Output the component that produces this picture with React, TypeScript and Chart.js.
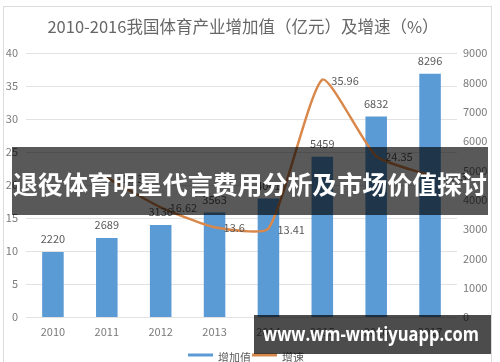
import React, { useEffect, useRef } from "react";
import { Chart, registerables } from "chart.js";

Chart.register(...registerables);

const years = ["2010", "2011", "2012", "2013", "2014", "2015", "2016", "2017"];
const addedValue = [2220, 2689, 3136, 3563, 4041, 5459, 6832, 8296];
const growthRate = [null, 21.13, 16.62, 13.6, 13.41, 35.96, 24.35, 21.43];
const growthLabels = ["", "21.13", "16.62", "13.6", "13.41", "35.96", "24.35", "21.43"];
const leftAxis = { min: 0, max: 40, step: 5 };
const rightAxis = { min: 0, max: 9000, step: 1000 };
const chartTitle = "2010-2016我国体育产业增加值（亿元）及增速（%）";
const legendNames = ["增加值", "增速"];
const bannerText = "退役体育明星代言费用分析及市场价值探讨";
const watermarkText = "www.wm-wmtiyuapp.com";

const BAR_COLOR = "#5B9BD5";
const LINE_COLOR = "#D9884C";
const TEXT_GRAY = "#7a7a7a";
const CJK = '"Noto Sans CJK SC", "Noto Sans", sans-serif';

const overlayPlugin = {
  id: "overlays",
  afterDatasetsDraw(chart: any) {
    const ctx = chart.ctx;
    ctx.save();
    const barMeta = chart.getDatasetMeta(0);
    ctx.font = `11px ${CJK}`;
    ctx.fillStyle = "#595959";
    ctx.textAlign = "center";
    ctx.textBaseline = "middle";
    barMeta.data.forEach((el: any, i: number) => {
      ctx.fillText(String(addedValue[i]), el.x, el.y - 13);
    });
    const lineMeta = chart.getDatasetMeta(1);
    ctx.textAlign = "left";
    lineMeta.data.forEach((el: any, i: number) => {
      if (growthRate[i] == null) return;
      ctx.fillText(growthLabels[i], el.x + 9, el.y + 1);
    });
    ctx.restore();
  },
  afterDraw(chart: any) {
    const ctx = chart.ctx;
    ctx.save();
    ctx.strokeStyle = "#dcdcdc";
    ctx.lineWidth = 1;
    ctx.strokeRect(3.5, 6.5, 488, 362);
    ctx.font = `16.5px ${CJK}`;
    ctx.fillStyle = "#666666";
    ctx.textAlign = "center";
    ctx.textBaseline = "middle";
    ctx.fillText(chartTitle, 243, 27);
    ctx.lineWidth = 3;
    ctx.strokeStyle = BAR_COLOR;
    ctx.beginPath();
    ctx.moveTo(188, 355);
    ctx.lineTo(213, 355);
    ctx.stroke();
    ctx.strokeStyle = LINE_COLOR;
    ctx.beginPath();
    ctx.moveTo(252, 355);
    ctx.lineTo(277, 355);
    ctx.stroke();
    ctx.font = `11px ${CJK}`;
    ctx.fillStyle = "#595959";
    ctx.textAlign = "left";
    ctx.fillText(legendNames[0], 218, 358);
    ctx.fillText(legendNames[1], 282, 358);
    ctx.fillStyle = "rgba(0,0,0,0.65)";
    ctx.fillRect(12, 147, 476, 68);
    ctx.fillStyle = "#ffffff";
    ctx.font = `bold 25px ${CJK}`;
    ctx.textAlign = "center";
    ctx.textBaseline = "middle";
    ctx.fillText(bannerText, 250, 184, 474);
    ctx.fillStyle = "rgba(0,0,0,0.7)";
    ctx.fillRect(254, 315, 237, 39);
    ctx.fillStyle = "#ffffff";
    ctx.font = `bold 20px "Open Sans", "DejaVu Sans", sans-serif`;
    ctx.fillText(watermarkText, 371, 335, 216);
    ctx.restore();
  },
};

export default function App() {
  const ref = useRef<HTMLCanvasElement | null>(null);
  useEffect(() => {
    if (!ref.current) return;
    const chart = new Chart(ref.current, {
      type: "bar",
      data: {
        labels: years,
        datasets: [
          {
            type: "bar",
            label: legendNames[0],
            data: addedValue,
            yAxisID: "y1",
            backgroundColor: BAR_COLOR,
            barPercentage: 0.8,
            categoryPercentage: 0.5,
            order: 1,
          },
          {
            type: "line",
            label: legendNames[1],
            data: growthRate as any,
            yAxisID: "y",
            borderColor: LINE_COLOR,
            borderWidth: 2.5,
            pointRadius: 0,
            tension: 0.18,
            fill: false,
            order: 0,
          },
        ],
      } as any,
      plugins: [overlayPlugin],
      options: {
        responsive: false,
        animation: false,
        layout: { padding: { top: 53, bottom: 22, left: 0, right: 0 } },
        plugins: {
          legend: { display: false },
          title: { display: false },
          tooltip: { enabled: false },
        },
        scales: {
          x: {
            grid: { display: false },
            border: { display: false },
            ticks: { color: TEXT_GRAY, font: { size: 11, family: CJK }, padding: 0 },
            afterFit(s: any) {
              s.height = 23;
            },
          },
          y: {
            position: "left",
            min: leftAxis.min,
            max: leftAxis.max,
            ticks: { stepSize: leftAxis.step, color: TEXT_GRAY, font: { size: 11, family: CJK }, padding: 8 },
            grid: { color: "#e2e2e2", drawTicks: false },
            border: { display: false },
            afterFit(s: any) {
              s.width = 26;
            },
          },
          y1: {
            position: "right",
            min: rightAxis.min,
            max: rightAxis.max,
            ticks: {
              stepSize: rightAxis.step,
              color: TEXT_GRAY,
              font: { size: 11, family: CJK },
              padding: 6,
              callback: (v: any) => String(v),
            },
            grid: { display: false, drawTicks: false },
            border: { display: false },
            afterFit(s: any) {
              s.width = 43;
            },
          },
        },
      } as any,
    });
    return () => chart.destroy();
  }, []);
  return (
    <div style={{ position: "fixed", left: 0, top: 0, width: 500, height: 362, background: "#fff" }}>
      <canvas ref={ref} width={500} height={362} style={{ display: "block", width: 500, height: 362 }} />
    </div>
  );
}
